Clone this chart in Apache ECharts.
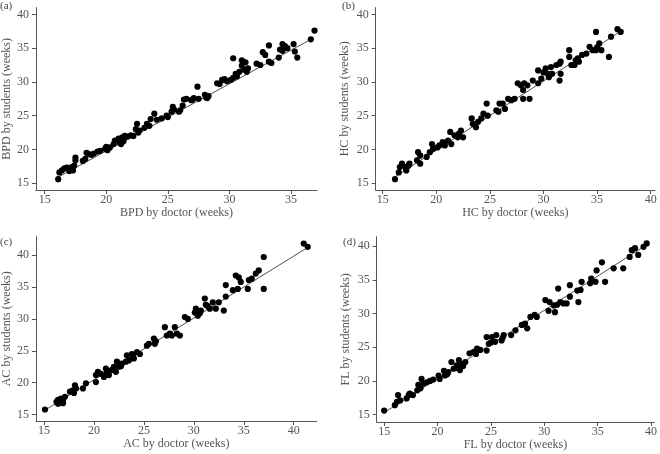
<!DOCTYPE html>
<html>
<head>
<meta charset="utf-8">
<script src="https://cdn.jsdelivr.net/npm/echarts@6/dist/echarts.min.js"></script>
<style>
html,body{margin:0;padding:0;background:#fff;}
#chart{width:660px;height:454px;}
</style>
</head>
<body>
<div id="chart"></div>
<script>
// ---- data (weeks) ----
const bpdPoints = [[16.1,15.6],[16.2,16.6],[16.4,16.9],[16.6,17.2],[16.8,17.3],[17.0,16.8],[17.1,17.0],[17.2,17.4],[17.3,16.9],[17.5,18.4],[17.5,18.8],[17.4,17.6],[18.1,18.3],[18.3,18.6],[18.4,19.5],[18.6,19.3],[18.8,19.2],[19.0,19.4],[19.3,19.7],[19.5,19.8],[19.9,20.1],[20.0,20.4],[20.1,19.9],[20.3,20.3],[20.6,20.8],[20.7,21.3],[21.0,21.6],[21.1,21.0],[21.2,20.8],[21.3,21.8],[21.4,21.2],[21.5,22.0],[21.7,21.9],[22.0,22.1],[22.2,22.0],[22.4,23.0],[22.5,23.8],[22.6,22.5],[22.7,22.8],[23.1,23.2],[23.3,23.8],[23.5,23.5],[23.6,24.5],[23.9,25.3],[24.1,24.4],[24.5,24.6],[24.9,25.0],[25.0,24.8],[25.3,25.6],[25.4,26.3],[25.5,25.9],[25.9,25.6],[26.0,25.8],[26.2,26.5],[26.3,27.4],[26.5,27.5],[27.0,27.4],[27.1,27.6],[27.4,29.3],[27.5,27.5],[28.1,27.7],[28.3,27.9],[28.2,27.6],[29.0,29.8],[29.2,29.7],[29.4,30.3],[29.6,30.4],[29.8,30.1],[30.1,30.3],[30.3,33.5],[30.3,30.6],[30.5,31.2],[30.6,30.8],[30.8,31.5],[31.0,33.2],[31.0,32.4],[31.2,31.8],[31.3,32.9],[31.4,31.5],[31.5,32.0],[32.2,32.7],[32.5,32.5],[32.7,34.4],[32.9,34.0],[33.2,35.4],[33.2,33.0],[33.4,32.8],[34.0,33.6],[34.1,34.8],[34.3,35.6],[34.5,35.3],[34.7,35.0],[35.2,35.6],[35.3,34.5],[35.5,33.6],[36.9,37.6],[36.6,36.3],[34.3,34.6],[28.0,28.1],[26.9,27.3]];
const hcPoints = [[16.15,15.6],[16.5,16.6],[16.6,17.4],[16.8,17.9],[17.1,17.4],[17.2,16.9],[17.4,17.6],[17.5,17.9],[18.2,18.4],[18.3,19.6],[18.5,19.1],[18.5,17.9],[19.1,18.9],[19.4,19.6],[19.6,20.8],[19.7,20.1],[20.3,20.6],[20.6,21.1],[20.8,20.6],[21.1,21.3],[21.3,22.6],[21.4,20.8],[21.7,22.1],[22.0,21.8],[22.3,22.8],[22.5,21.8],[23.3,24.6],[23.4,23.8],[23.7,23.3],[23.9,24.1],[24.2,24.6],[24.4,25.3],[24.7,26.8],[24.8,25.0],[25.6,25.8],[25.9,26.8],[26.2,26.8],[26.4,26.0],[26.7,27.5],[27.0,27.3],[27.3,27.5],[27.6,29.8],[27.9,29.5],[28.2,29.8],[28.1,28.8],[28.1,27.5],[28.5,29.5],[28.7,27.5],[29.0,30.2],[29.5,31.7],[29.5,29.8],[29.8,30.5],[30.2,32.0],[30.4,31.2],[30.5,30.7],[30.7,32.2],[30.8,31.2],[31.2,32.5],[31.5,32.7],[31.5,30.2],[31.6,31.2],[31.6,33.0],[32.4,34.7],[32.4,33.7],[32.6,32.5],[32.9,32.5],[33.2,33.5],[33.3,33.0],[33.6,34.0],[34.0,34.2],[34.3,35.2],[34.6,34.7],[34.9,37.4],[34.9,34.7],[35.2,35.7],[35.4,34.7],[36.1,33.7],[36.3,36.7],[36.9,37.8],[37.2,37.4],[20.1,20.3],[22.1,22.3],[25.8,25.6],[30.0,31.4],[33.0,33.2],[35.0,35.1]];
const acPoints = [[15.1,15.8],[16.25,17.0],[16.4,17.3],[16.7,17.5],[16.9,17.3],[17.1,17.8],[16.9,16.8],[16.4,16.7],[17.6,18.6],[17.9,18.8],[18.1,19.6],[18.2,19.1],[18.9,19.1],[19.2,19.9],[20.2,20.1],[20.2,21.2],[20.4,21.7],[20.7,21.4],[21.0,20.9],[21.2,22.2],[21.5,21.2],[21.8,22.0],[22.0,22.5],[22.2,21.7],[22.3,23.3],[22.5,22.5],[22.8,23.0],[23.2,23.3],[23.3,24.3],[23.5,23.5],[23.8,24.5],[24.0,23.8],[24.3,24.8],[24.6,24.5],[25.3,25.8],[25.5,26.1],[26.0,26.9],[26.1,26.1],[27.1,28.7],[27.3,27.4],[27.8,27.4],[28.1,28.7],[28.3,27.7],[28.6,27.4],[29.1,30.3],[29.4,30.0],[30.1,31.0],[30.2,31.6],[30.4,30.5],[30.7,31.3],[31.1,33.2],[31.2,32.2],[31.6,31.6],[31.9,32.6],[32.2,31.6],[32.5,32.6],[33.0,31.3],[33.2,33.5],[33.2,35.3],[33.9,34.5],[34.2,36.8],[34.4,34.7],[34.5,36.5],[34.7,35.8],[35.4,34.7],[35.5,36.1],[35.8,36.3],[36.2,37.1],[36.5,37.6],[37.0,39.7],[37.0,34.7],[41.0,41.8],[41.4,41.3],[16.6,16.9],[18.0,18.4],[21.3,21.6],[22.7,22.6],[23.9,24.2],[26.2,26.5],[27.6,27.7],[30.6,30.9],[31.4,32.0]];
const flPoints = [[15.0,15.6],[16.0,16.4],[16.2,16.9],[16.3,17.9],[16.5,17.1],[17.1,17.4],[17.3,17.9],[17.4,18.1],[17.7,17.9],[18.1,18.6],[18.2,19.4],[18.4,18.9],[18.5,20.3],[18.7,19.6],[19.0,19.8],[19.3,20.0],[20.1,20.8],[20.2,20.3],[20.6,21.5],[20.7,20.8],[21.0,21.3],[21.3,22.8],[21.5,21.8],[21.8,22.3],[22.0,23.1],[22.1,21.6],[22.3,22.5],[22.6,22.8],[23.0,24.1],[23.4,24.3],[23.7,24.8],[24.0,24.6],[24.6,26.5],[24.8,25.5],[24.6,24.5],[25.1,26.5],[25.4,25.8],[25.5,26.8],[26.0,26.0],[26.2,26.8],[26.9,26.8],[27.3,27.5],[27.9,28.3],[28.2,28.5],[28.4,27.8],[28.7,29.5],[29.1,29.8],[29.3,29.5],[30.1,32.0],[30.4,30.4],[30.5,31.7],[30.9,31.2],[31.0,30.2],[31.3,33.7],[31.5,31.7],[31.8,31.5],[32.1,31.5],[32.4,32.5],[32.4,34.2],[33.2,31.7],[33.4,33.5],[33.5,34.7],[34.3,34.5],[34.4,35.2],[34.8,34.7],[34.9,36.4],[35.4,37.6],[35.7,34.7],[36.5,36.7],[37.4,36.7],[38.0,38.4],[38.2,39.4],[38.5,39.7],[38.8,38.7],[39.3,39.9],[39.6,40.4],[19.6,20.2],[20.9,21.0],[21.9,21.9],[22.4,22.2],[23.6,24.0],[25.0,25.7],[26.1,26.4],[31.2,31.3],[33.1,33.4]];
const bpdLine = [[16.1,15.9],[36.7,36.4]];
const hcLine = [[16.1,15.9],[37.4,37.7]];
const acLine = [[15.1,15.7],[41.4,41.2]];
const flLine = [[15.1,15.4],[39.6,40.2]];
const tickValues = [15,20,25,30,35,40];
const tickValuesA = [15,20,25,30,35];
const panelLabels = ['(a)','(b)','(c)','(d)'];
const xNames = ['BPD by doctor (weeks)','HC by doctor (weeks)','AC by doctor (weeks)','FL by doctor (weeks)'];
const yNames = ['BPD by students (weeks)','HC by students (weeks)','AC by students (weeks)','FL by students (weeks)'];

// ---- layout ----
const FONT = 'Liberation Serif';
const TXT = '#555';
const AX = '#555';
const panels = [
  {points:bpdPoints, line:bpdLine, grid:{left:34, top:7.6, width:283, height:182.4}, x:[14.3,37.1], y:[14,41], xt:tickValuesA, yNameGap:23, label:{left:0, top:1}},
  {points:hcPoints, line:hcLine, grid:{left:375.7, top:7.6, width:279.3, height:182.4}, x:[14.35,40.4], y:[14,41], xt:tickValues, yNameGap:24.5, label:{left:342, top:1}},
  {points:acPoints, line:acLine, grid:{left:34.3, top:236.6, width:282.4, height:184.4}, x:[14.2,42.3], y:[14,42.9], xt:tickValues, yNameGap:23, label:{left:0, top:237}},
  {points:flPoints, line:flLine, grid:{left:376.7, top:236.7, width:277.7, height:185.3}, x:[14.3,40.3], y:[13.9,41.4], xt:tickValues, yNameGap:25, label:{left:343, top:237}}
];

const txtStyle = {fontFamily:FONT, fontSize:12, color:TXT};
const option = {
  animation:false,
  backgroundColor:'#fff',
  title: panels.map((p,i)=>({text:panelLabels[i], left:p.label.left, top:p.label.top, padding:0, textStyle:{fontFamily:FONT, fontSize:11, fontWeight:'normal', color:'#444'}})),
  grid: panels.map(p=>Object.assign({containLabel:false}, p.grid)),
  xAxis: panels.map((p,i)=>({
    type:'value', gridIndex:i, min:p.x[0], max:p.x[1],
    name:xNames[i], nameLocation:'middle', nameGap:17, nameTextStyle:txtStyle,
    axisLine:{show:true, onZero:false, lineStyle:{color:AX, width:1}},
    axisTick:{show:true, inside:false, length:4, customValues:p.xt, lineStyle:{color:AX}},
    axisLabel:{customValues:p.xt, margin:4, fontFamily:FONT, fontSize:12, color:TXT},
    splitLine:{show:false}
  })),
  yAxis: panels.map((p,i)=>({
    type:'value', gridIndex:i, min:p.y[0], max:p.y[1],
    name:yNames[i], nameLocation:'middle', nameGap:p.yNameGap, nameTextStyle:txtStyle,
    axisLine:{show:true, onZero:false, lineStyle:{color:AX, width:1}},
    axisTick:{show:true, inside:false, length:4, customValues:tickValues, lineStyle:{color:AX}},
    axisLabel:{customValues:tickValues, margin:7, fontFamily:FONT, fontSize:12, color:TXT},
    splitLine:{show:false}
  })),
  series: [].concat(
    panels.map((p,i)=>({type:'line', xAxisIndex:i, yAxisIndex:i, data:p.line, symbol:'none', lineStyle:{color:'#222', width:0.8}, z:1, silent:true})),
    panels.map((p,i)=>({type:'scatter', xAxisIndex:i, yAxisIndex:i, data:p.points, symbol:'circle', symbolSize:6.2, itemStyle:{color:'#000', opacity:1}, z:2, silent:true}))
  )
};
const chart = echarts.init(document.getElementById('chart'), null, {renderer:'canvas'});
chart.setOption(option);
</script>
</body>
</html>
